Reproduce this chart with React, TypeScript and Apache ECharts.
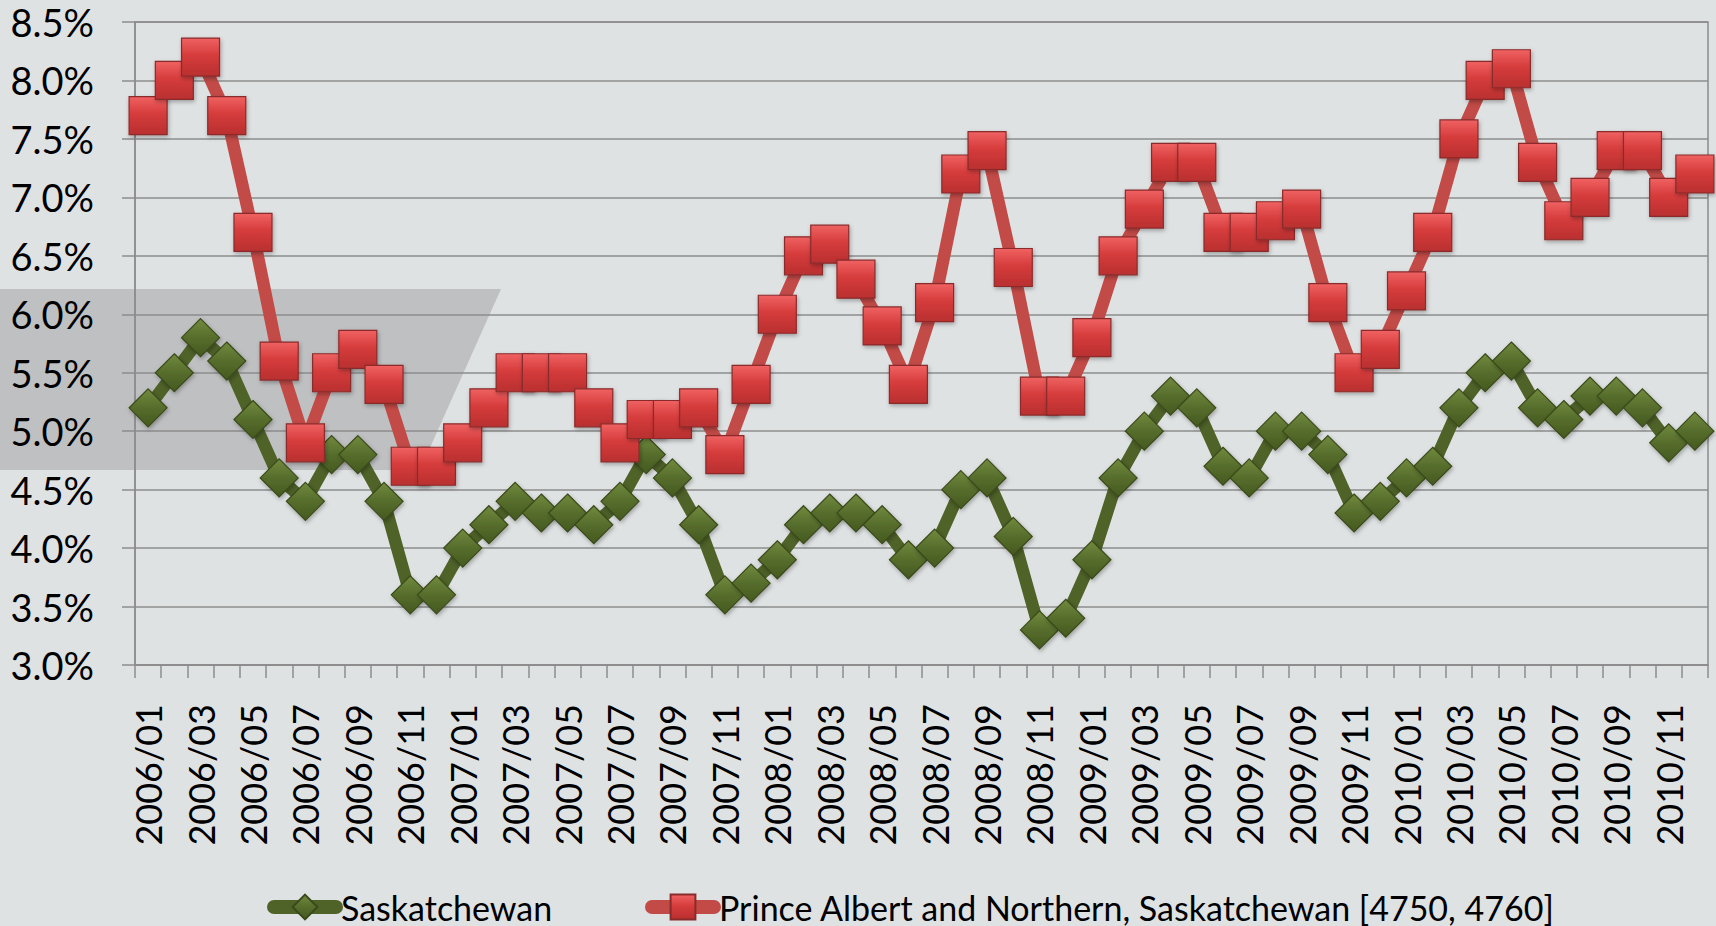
import React, { useEffect, useRef } from "react";
import * as echarts from "echarts";

const years = [2006, 2007, 2008, 2009, 2010];
const months = ["01", "02", "03", "04", "05", "06", "07", "08", "09", "10", "11", "12"];
const categories = years.flatMap((y) => months.map((m) => `${y}/${m}`));

const saskatchewan = [
  5.2, 5.5, 5.8, 5.6, 5.1, 4.6, 4.4, 4.8, 4.8, 4.4, 3.6, 3.6,
  4.0, 4.2, 4.4, 4.3, 4.3, 4.2, 4.4, 4.8, 4.6, 4.2, 3.6, 3.7,
  3.9, 4.2, 4.3, 4.3, 4.2, 3.9, 4.0, 4.5, 4.6, 4.1, 3.3, 3.4,
  3.9, 4.6, 5.0, 5.3, 5.2, 4.7, 4.6, 5.0, 5.0, 4.8, 4.3, 4.4,
  4.6, 4.7, 5.2, 5.5, 5.6, 5.2, 5.1, 5.3, 5.3, 5.2, 4.9, 5.0,
];

const princeAlbert = [
  7.7, 8.0, 8.2, 7.7, 6.7, 5.6, 4.9, 5.5, 5.7, 5.4, 4.7, 4.7,
  4.9, 5.2, 5.5, 5.5, 5.5, 5.2, 4.9, 5.1, 5.1, 5.2, 4.8, 5.4,
  6.0, 6.5, 6.6, 6.3, 5.9, 5.4, 6.1, 7.2, 7.4, 6.4, 5.3, 5.3,
  5.8, 6.5, 6.9, 7.3, 7.3, 6.7, 6.7, 6.8, 6.9, 6.1, 5.5, 5.7,
  6.2, 6.7, 7.5, 8.0, 8.1, 7.3, 6.8, 7.0, 7.4, 7.4, 7.0, 7.2,
];

const seriesNames = ["Saskatchewan", "Prince Albert and Northern, Saskatchewan [4750, 4760]"];
const yMin = 3.0;
const yMax = 8.5;
const yStep = 0.5;

const FONT = "Lato";

export default function App() {
  const ref = useRef<HTMLDivElement>(null);

  useEffect(() => {
    if (!ref.current) return;
    const chart = echarts.init(ref.current, null, { renderer: "svg" });

    const redFill = new echarts.graphic.LinearGradient(0, 0, 0, 1, [
      { offset: 0, color: "#f06262" },
      { offset: 0.45, color: "#d63c3c" },
      { offset: 1, color: "#b92f2f" },
    ]);
    const greenFill = new echarts.graphic.LinearGradient(0, 0, 0, 1, [
      { offset: 0, color: "#718a3d" },
      { offset: 0.5, color: "#566d2c" },
      { offset: 1, color: "#45591f" },
    ]);

    const legendBase = {
      top: 889,
      padding: 0,
      itemWidth: 62,
      itemHeight: 31,
      itemGap: 0,
      selectedMode: false,
      textStyle: { fontFamily: FONT, fontSize: 34, lineHeight: 36, color: "#000" },
      lineStyle: { width: 14, cap: "round" },
    };

    chart.setOption({
      animation: false,
      backgroundColor: "#dfe2e3",
      graphic: [
        {
          type: "polygon",
          z: -10,
          silent: true,
          shape: {
            points: [
              [0, 289],
              [501, 289],
              [420, 470],
              [0, 470],
            ],
          },
          style: { fill: "rgba(120,120,120,0.32)" },
        },
      ],
      legend: [
        { ...legendBase, left: 267, data: [seriesNames[0]] },
        { ...legendBase, left: 645, data: [seriesNames[1]] },
      ],
      grid: {
        left: 135,
        right: 8,
        top: 22,
        bottom: 261,
        show: true,
        borderColor: "#8c8c8c",
        borderWidth: 1.5,
        backgroundColor: "transparent",
      },
      xAxis: {
        type: "category",
        data: categories,
        boundaryGap: true,
        axisLine: { lineStyle: { color: "#8c8c8c", width: 1.5 } },
        axisTick: {
          show: true,
          interval: 0,
          alignWithLabel: false,
          length: 13,
          lineStyle: { color: "#8c8c8c", width: 1.5 },
        },
        axisLabel: {
          interval: 1,
          rotate: 90,
          margin: 39,
          fontFamily: FONT,
          fontSize: 36,
          color: "#000",
        },
        splitLine: { show: false },
      },
      yAxis: {
        type: "value",
        min: yMin,
        max: yMax,
        interval: yStep,
        axisLine: { show: true, lineStyle: { color: "#8c8c8c", width: 1.5 } },
        axisTick: { show: true, length: 13, lineStyle: { color: "#8c8c8c", width: 1.5 } },
        axisLabel: {
          margin: 41,
          fontFamily: FONT,
          fontSize: 38,
          color: "#000",
          formatter: (v: number) => v.toFixed(1) + "%",
        },
        splitLine: { show: true, lineStyle: { color: "#8c8c8c", width: 1.5 } },
      },
      series: [
        {
          name: seriesNames[0],
          type: "line",
          data: saskatchewan,
          symbol: "diamond",
          symbolSize: 38,
          showAllSymbol: true,
          z: 3,
          lineStyle: { color: "#4f6228", width: 12.5, cap: "round", join: "round" },
          itemStyle: {
            color: greenFill,
            borderColor: "#3a4a1a",
            borderWidth: 1.2,
            shadowBlur: 4,
            shadowOffsetX: 1,
            shadowOffsetY: 2,
            shadowColor: "rgba(0,0,0,0.3)",
          },
        },
        {
          name: seriesNames[1],
          type: "line",
          data: princeAlbert,
          symbol: "rect",
          symbolSize: 38,
          showAllSymbol: true,
          z: 4,
          lineStyle: { color: "#c24a47", width: 12.5, cap: "round", join: "round" },
          itemStyle: {
            color: redFill,
            borderColor: "#8a2b2b",
            borderWidth: 1.2,
            shadowBlur: 4,
            shadowOffsetX: 1,
            shadowOffsetY: 2,
            shadowColor: "rgba(0,0,0,0.3)",
          },
        },
      ],
    });

    return () => chart.dispose();
  }, []);

  return (
    <div
      ref={ref}
      style={{ position: "fixed", left: 0, top: 0, width: 1716, height: 926 }}
    />
  );
}
